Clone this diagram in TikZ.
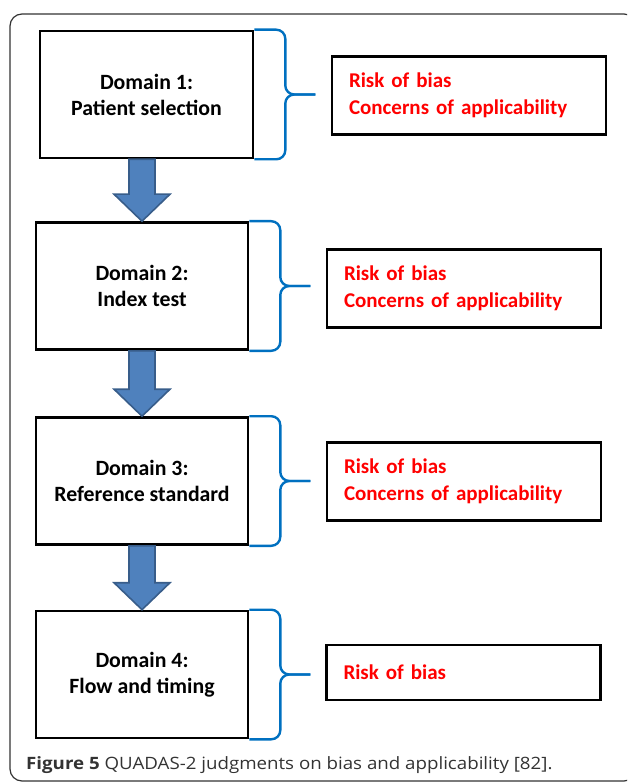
\documentclass[tikz,border=0pt]{standalone}
\usepackage{fontspec}
\setmainfont{Carlito}
\newfontfamily\captionfont[FakeStretch=1.1]{Open Sans}
\usetikzlibrary{positioning,calc}
\definecolor{braceblue}{RGB}{0,112,192}
\definecolor{arrowfill}{RGB}{79,129,189}
\definecolor{arrowline}{RGB}{56,93,138}
\definecolor{judgered}{RGB}{255,0,0}
\definecolor{captiongray}{RGB}{51,51,51}

\begin{document}
\begin{tikzpicture}[x=1pt, y=1pt,
				      domainBox/.style={draw, line width=2.6pt, minimum width=212pt, minimum height=127pt, inner sep=0pt, align=center, font=\fontsize{21.8}{26}\selectfont\bfseries},  % left boxes
				      judgeBox/.style={draw, line width=2.2pt, minimum width=274pt, minimum height=78pt, text width=240pt, inner xsep=16pt, align=left, text=judgered, font=\fontsize{21}{27}\selectfont\bfseries},  % right boxes
				      bracePath/.style={draw=braceblue, line width=2.4pt, rounded corners=9pt},
				      blockArrow/.style={fill=arrowfill, draw=arrowline, line width=1.6pt, line join=miter}
			      ]
			      \useasboundingbox (0,0) rectangle (627,-783);
			      \clip (0,0) rectangle (627,-783);

			      % Outer frame
			      \draw[line width=1.2pt, draw=black!80, rounded corners=12pt] (10,-14) rectangle (636,-781);

			      % Domains
			      \node[domainBox, minimum width=213pt] (D1) at (146.5,-94.5) {Domain 1:\\Patient selection};
			      \node[domainBox] (D2) at (142,-286) {Domain 2:\\Index test};
			      \node[domainBox] (D3) at (142,-481) {Domain 3:\\Reference standard};
			      \node[domainBox] (D4) at (142,-674.5) {Domain 4:\\Flow and timing};

			      % Judgments
			      \node[judgeBox] (J1) at (469,-95.5) {Risk of bias\\Concerns of applicability};
			      \node[judgeBox] (J2) at (464,-288.5) {Risk of bias\\Concerns of applicability};
			      \node[judgeBox] (J3) at (464,-481.5) {Risk of bias\\Concerns of applicability};
			      \node[judgeBox, minimum height=55pt] (J4) at (463.5,-672.5) {Risk of bias};

			      % Braces
			      \coordinate[right=61pt of D1.east] (T1);
			      \coordinate[right=61pt of D2.east] (T2);
			      \coordinate[right=61pt of D3.east] (T3);
			      \coordinate[right=61pt of D4.east] (T4);
			      \draw[bracePath] (D1.north east) -| ($(T1)+(-30,0)$) -- (T1);
			      \draw[bracePath] (D1.south east) -| ($(T1)+(-30,0)$) -- (T1);
			      \draw[bracePath] (D2.north east) -| ($(T2)+(-30,0)$) -- (T2);
			      \draw[bracePath] (D2.south east) -| ($(T2)+(-30,0)$) -- (T2);
			      \draw[bracePath] (D3.north east) -| ($(T3)+(-30,0)$) -- (T3);
			      \draw[bracePath] (D3.south east) -| ($(T3)+(-30,0)$) -- (T3);
			      \draw[bracePath] (D4.north east) -| ($(T4)+(-30,0)$) -- (T4);
			      \draw[bracePath] (D4.south east) -| ($(T4)+(-30,0)$) -- (T4);

			      % Block arrows between domains
			      \draw[blockArrow] ($(D1.south -| D2.north)+(-13,0)$) -- ($(D2.north)+(-13,27)$) -- ($(D2.north)+(-28,27)$) -- (D2.north) -- ($(D2.north)+(28,27)$) -- ($(D2.north)+(13,27)$) -- ($(D1.south -| D2.north)+(13,0)$) -- cycle;
			      \draw[blockArrow] ($(D2.south)+(-13,0)$) -- ($(D3.north)+(-13,27)$) -- ($(D3.north)+(-28,27)$) -- (D3.north) -- ($(D3.north)+(28,27)$) -- ($(D3.north)+(13,27)$) -- ($(D2.south)+(13,0)$) -- cycle;
			      \draw[blockArrow] ($(D3.south)+(-13,0)$) -- ($(D4.north)+(-13,27)$) -- ($(D4.north)+(-28,27)$) -- (D4.north) -- ($(D4.north)+(28,27)$) -- ($(D4.north)+(13,27)$) -- ($(D3.south)+(13,0)$) -- cycle;

			      % Caption
			      \node[anchor=base west, inner sep=0pt, text=captiongray, font=\captionfont\fontsize{17}{20}\selectfont] (cap) at (26,-769) {\textbf{Figure 5} QUADAS-2 judgments on bias and applicability [82].};
		      \end{tikzpicture}
\end{document}
